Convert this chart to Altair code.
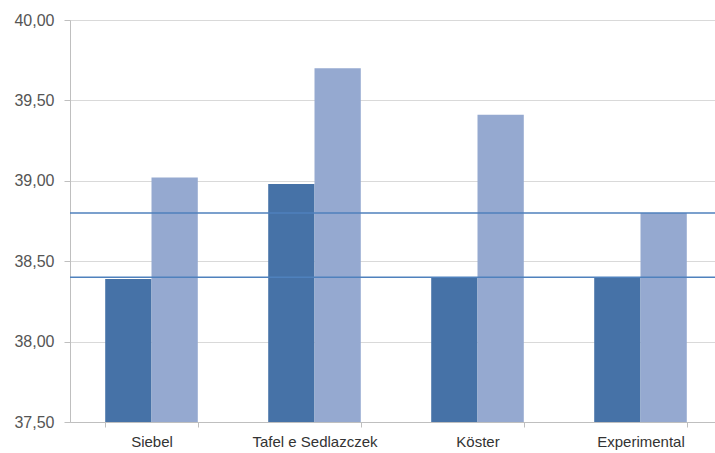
import altair as alt
import pandas as pd

categories = ["Siebel", "Tafel e Sedlazczek", "Köster", "Experimental"]
series_names = ["Série 1", "Série 2"]
series1 = [38.39, 38.98, 38.40, 38.40]
series2 = [39.02, 39.70, 39.41, 38.80]
ref_lines = [38.80, 38.40]
y_ticks = [37.5, 38.0, 38.5, 39.0, 39.5, 40.0]

rows = []
for c, a, b in zip(categories, series1, series2):
    rows.append({"cat": c, "serie": series_names[0], "v": a})
    rows.append({"cat": c, "serie": series_names[1], "v": b})
bars_df = pd.DataFrame(rows)
lines_df = pd.DataFrame({"v": ref_lines})

label_font = "Liberation Sans"

y_scale = alt.Scale(domain=[37.5, 40.0], zero=False, nice=False)

bars = alt.Chart(bars_df).mark_bar().encode(
    x=alt.X("cat:N", sort=categories,
            scale=alt.Scale(paddingInner=0.432, paddingOuter=0.216, range=[0, 652]),
            axis=alt.Axis(title=None, labelAngle=0, tickBand="extent",
                          domainColor="#bfbfbf", tickColor="#bfbfbf",
                          tickSize=5, labelFontSize=15, labelFont=label_font,
                          labelColor="#333333", labelPadding=7, grid=False)),
    xOffset=alt.XOffset("serie:N", sort=series_names,
                        scale=alt.Scale(paddingInner=0, paddingOuter=0)),
    y=alt.Y("v:Q", scale=y_scale,
            axis=alt.Axis(title=None, values=y_ticks,
                          labelExpr="replace(format(datum.value, '.2f'), '.', ',')",
                          domainColor="#bfbfbf", tickColor="#bfbfbf", tickSize=6,
                          gridColor="#d9d9d9", labelFontSize=16, labelFont=label_font,
                          labelColor="#555555", labelPadding=10)),
    y2=alt.datum(37.5),
    color=alt.Color("serie:N", sort=series_names,
                    scale=alt.Scale(domain=series_names, range=["#4672a7", "#95a9d0"]),
                    legend=None),
)

rules = alt.Chart(lines_df).mark_rule(color="#4f81bd", strokeWidth=1.5).encode(
    y=alt.Y("v:Q", scale=y_scale)
)

chart = alt.layer(bars, rules).properties(
    width=645, height=402,
    autosize=alt.AutoSizeParams(type="none"),
    padding={"left": 70, "top": 20, "right": 0, "bottom": 31},
).configure_view(stroke=None).configure(background="white")

chart.save("out.html", embed_options={"renderer": "svg", "actions": False})
